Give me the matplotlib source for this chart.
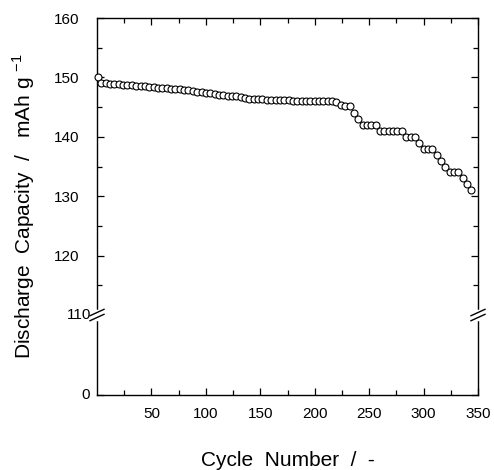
import numpy as np
import matplotlib
matplotlib.use("Agg")
import matplotlib.pyplot as plt
from matplotlib.lines import Line2D

plt.rcParams['font.family'] = ['Liberation Sans', 'DejaVu Sans']

cycles = [1, 4, 8, 12, 16, 20, 24, 28, 32, 36, 40, 44, 48, 52, 56, 60, 64, 68, 72, 76,
          80, 84, 88, 92, 96, 100, 104, 108, 112, 116, 120, 124, 128, 132, 136, 140,
          144, 148, 152, 156, 160, 164, 168, 172, 176, 180, 184, 188, 192, 196, 200,
          204, 208, 212, 216, 220, 224, 228, 232, 236, 240, 244, 248, 252, 256, 260,
          264, 268, 272, 276, 280, 284, 288, 292, 296, 300, 304, 308, 312, 316, 320,
          324, 328, 332, 336, 340, 344]
capacity = [150.0, 149.1, 149.0, 148.95, 148.9, 148.85, 148.8, 148.75, 148.7, 148.6,
            148.55, 148.5, 148.45, 148.4, 148.3, 148.25, 148.2, 148.1, 148.05, 148.0,
            147.9, 147.8, 147.7, 147.6, 147.5, 147.4, 147.3, 147.2, 147.1, 147.0,
            146.95, 146.9, 146.8, 146.7, 146.6, 146.4, 146.3, 146.3, 146.3, 146.25,
            146.25, 146.2, 146.2, 146.2, 146.15, 146.1, 146.1, 146.1, 146.05, 146.05,
            146.0, 146.0, 146.0, 146.0, 146.0, 145.8, 145.4, 145.2, 145.2, 144.0,
            143.0, 142.0, 142.0, 142.0, 142.0, 141.0, 141.0, 141.0, 141.0, 141.0,
            141.0, 140.0, 140.0, 140.0, 139.0, 138.0, 138.0, 138.0, 137.0, 136.0,
            135.0, 134.0, 134.0, 134.0, 133.0, 132.0, 131.0]

x_major = [50, 100, 150, 200, 250, 300, 350]
x_minor = [25, 75, 125, 175, 225, 275, 325]
y_major = [0, 120, 130, 140, 150, 160]
y_labels = ['', '120', '130', '140', '150', '160']
y_minor = [115, 125, 135, 145, 155]
BREAK = 110

# piecewise linear scale: 110-160 full scale, 0-110 compressed
K = 0.1224
def fwd(y):
    y = np.asarray(y, dtype=float)
    return np.where(y >= BREAK, y, BREAK - (BREAK - y) * K)
def inv(y):
    y = np.asarray(y, dtype=float)
    return np.where(y >= BREAK, y, BREAK - (BREAK - y) / K)

fig = plt.figure(figsize=(4.94, 4.70), dpi=100)
W, H = 494, 470
L, R, T, B = 97, 478, 18, 395
ax = fig.add_axes([L / W, 1 - B / H, (R - L) / W, (B - T) / H])
ax.set_yscale('function', functions=(fwd, inv))
ax.set_xlim(0, 350)
ax.set_ylim(0, 160)

ax.plot(cycles, capacity, linestyle='none', marker='o', markersize=5.0,
        markerfacecolor='white', markeredgecolor='black', markeredgewidth=0.8,
        clip_on=False, zorder=3)

ax.set_xticks(x_major)
ax.set_xticks(x_minor, minor=True)
ax.set_yticks(y_major)
ax.set_yticklabels(y_labels)
ax.set_yticks(y_minor, minor=True)
ax.tick_params(which='both', direction='in', top=True, right=True, labelsize=11,
               width=0.9)
ax.tick_params(axis='x', which='both', pad=9)
ax.tick_params(axis='y', which='both', pad=13)
ax.tick_params(which='major', length=5)
ax.tick_params(which='minor', length=3.5)
for s in ax.spines.values():
    s.set_linewidth(1.0)

# labels for 110 (next to the break) and 0
ax.text(-0.016, BREAK, '110', transform=ax.get_yaxis_transform(), ha='right',
        va='center', fontsize=11)
ax.text(-0.018, 0, '0', transform=ax.get_yaxis_transform(), ha='right',
        va='center', fontsize=11)

ax.set_xlabel('Cycle  Number  /  -', fontsize=15)
ax.xaxis.set_label_coords(0.5, -0.148)
ax.set_ylabel('Discharge  Capacity  /   mAh g $^{\\mathregular{-1}}$', fontsize=15)
ax.yaxis.set_label_coords(-0.157, 0.5)

# break marks
fig.canvas.draw()
y0 = ax.transAxes.inverted().transform(ax.transData.transform((0, BREAK)))[1]
dx = 7 / (R - L)
dy = 3.2 / (B - T)
gap = 2.5 / (B - T)
for xs in (0, 1):
    ax.add_line(Line2D([xs, xs], [y0 - gap - 1.5 / (B - T), y0 + gap + 1.5 / (B - T)],
                       transform=ax.transAxes, color='white', lw=2.5, clip_on=False,
                       zorder=5))
    for off in (-gap, gap):
        ax.add_line(Line2D([xs - dx, xs + dx], [y0 + off - dy, y0 + off + dy],
                           transform=ax.transAxes, color='black', lw=1.0,
                           clip_on=False, zorder=6))

fig.savefig('out.png', dpi=100, facecolor='white')
